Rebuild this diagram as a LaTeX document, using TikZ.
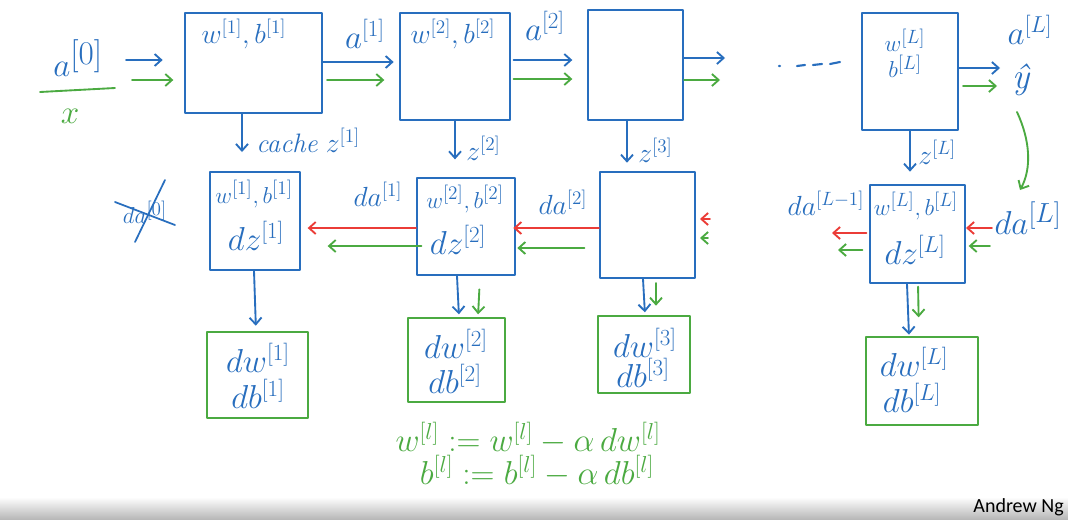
\documentclass[tikz,border=0pt]{standalone}
\usepackage{fontspec}
\newfontfamily\ngfont{Carlito}
\usetikzlibrary{arrows.meta,fit,calc}
\definecolor{pb}{RGB}{40,110,190}
\definecolor{pg}{RGB}{75,170,65}
\definecolor{pr}{RGB}{235,60,55}
\begin{document}
\begin{tikzpicture}[x=0.75pt,y=-0.75pt,line cap=round,line join=round,
  bbox/.style={draw=pb,line width=1.5pt,inner sep=0pt},
  gbox/.style={draw=pg,line width=1.5pt,inner sep=0pt},
  tip/.style={-{Straight Barb[length=5pt,width=9pt,line width=1.4pt]}},
  barr/.style={pb,line width=1.4pt,tip},
  garr/.style={pg,line width=1.4pt,tip},
  rarr/.style={pr,line width=1.4pt,tip},
  btxt/.style={text=pb,inner sep=0pt,font=\fontsize{19}{21}\selectfont},
  ztxt/.style={text=pb,inner sep=0pt,font=\fontsize{20}{22}\selectfont},
  bbig/.style={text=pb,inner sep=0pt,font=\fontsize{27}{30}\selectfont},
  gtxt/.style={text=pg,inner sep=0pt,font=\fontsize{23}{26}\selectfont},
  dtxt/.style={text=pb,inner sep=0pt,font=\fontsize{20}{22}\selectfont},
  dbig/.style={text=pb,inner sep=0pt,font=\fontsize{25}{27}\selectfont}]
\useasboundingbox (0,0) rectangle (1068,519);
\fill[white] (0,0) rectangle (1068,519);
\shade[top color=white,bottom color=black!28] (0,497) rectangle (1068,519);
\node[anchor=east,inner sep=0pt,font=\ngfont\fontsize{15}{16}\selectfont] (ng) at (1064,507) {Andrew Ng};

% ---------- forward boxes ----------
\node[bbox,fit={(185,13)(322,113)}] (F1) {};
\node[bbox,fit={(400,13)(510,120)}] (F2) {};
\node[bbox,fit={(588,10)(683,120)}] (F3) {};
\node[bbox,fit={(862,13)(958,130)}] (FL) {};
\node[btxt,font=\fontsize{20}{22}\selectfont] (F1t) at (244,34) {$w^{[1]},b^{[1]}$};
\node[btxt,font=\fontsize{21}{23}\selectfont] (F2t) at (453,34) {$w^{[2]},b^{[2]}$};
\node[btxt] (FLt1) at (905,40) {$w^{[L]}$};
\node[btxt] (FLt2) at (905,66) {$b^{[L]}$};

% input
\node[text=pb,inner sep=0pt,font=\fontsize{40}{42}\selectfont] (a0) at (78,58) {$a^{[0]}$};
\draw[pg,line width=1.4pt] (40,92) -- (115,88);
\node[text=pg,inner sep=0pt,font=\fontsize{26}{28}\selectfont] (x) at (70,116) {$x$};
\coordinate (inb) at (126,60);
\coordinate (ing) at (132,80);
\draw[barr,shorten >=16pt] (inb) -- (F1.west |- inb);
\draw[garr,shorten >=8pt] (ing) -- (F1.west |- ing);

% forward arrows
\draw[barr,shorten >=4pt] (F1.east |- 0,62) -- (F2.west |- 0,62);
\draw[garr,shorten <=3pt,shorten >=11pt] (F1.east |- 0,80) -- (F2.west |- 0,80);
\node[bbig] (a1) at (365,34) {$a^{[1]}$};
\draw[barr,shorten <=2pt,shorten >=11pt] (F2.east |- 0,60) -- (F3.west |- 0,60);
\draw[garr,shorten <=2pt,shorten >=11pt] (F2.east |- 0,79) -- (F3.west |- 0,79);
\node[bbig] (a2) at (545,26) {$a^{[2]}$};
\coordinate (o3b) at (725,58);
\coordinate (o3g) at (720,80);
\draw[barr] (F3.east |- o3b) -- (o3b);
\draw[garr] (F3.east |- o3g) -- (o3g);
\draw[pb,line width=1.6pt] (779,66) -- (780,66) (797,66) -- (805,65) (813,65) -- (822,64) (830,64) -- (840,62);
\coordinate (oLb) at (1000,68);
\coordinate (oLg) at (997,86);
\draw[barr] (FL.east |- oLb) -- (oLb);
\draw[garr,shorten <=3pt] (FL.east |- oLg) -- (oLg);
\node[bbig,font=\fontsize{25}{27}\selectfont] (aL) at (1030,30) {$a^{[L]}$};
\node[bbig,font=\fontsize{27}{30}\itshape] (yh) at (1021,80) {ŷ};

% cache arrows
\draw[barr,shorten >=15pt] (F1.south -| 242,0) -- (242,172);
\node[ztxt,anchor=west] (c1) at (256,140) {\textit{cache} $z^{[1]}$};
\draw[barr,shorten >=14pt] (F2.south -| 455,0) -- (455,178);
\node[ztxt,anchor=west] (z2) at (466,148) {$z^{[2]}$};
\draw[barr,shorten >=7pt] (F3.south -| 627,0) -- (627,172);
\node[ztxt,anchor=west] (z3) at (638,150) {$z^{[3]}$};
\draw[barr,shorten >=10pt] (FL.south -| 910,0) -- (910,185);
\node[ztxt,anchor=west] (zL) at (918,152) {$z^{[L]}$};

% backward boxes
\node[bbox,fit={(210,172)(300,270)}] (B1) {};
\node[bbox,fit={(417,178)(515,275)}] (B2) {};
\node[bbox,fit={(600,172)(695,278)}] (B3) {};
\node[bbox,fit={(870,185)(965,283)}] (BL) {};
\node[btxt] (B1t) at (254,194) {$w^{[1]},b^{[1]}$};
\node[dbig] (B1z) at (256,236) {$dz^{[1]}$};
\node[btxt] (B2t) at (465,199) {$w^{[2]},b^{[2]}$};
\node[dbig] (B2z) at (458,240) {$dz^{[2]}$};
\node[btxt] (BLt) at (916,206) {$w^{[L]},b^{[L]}$};
\node[dbig] (BLz) at (915,250) {$dz^{[L]}$};

% crossed da0
\node[btxt] (da0) at (145,212) {$da^{[0]}$};
\draw[pb,line width=1.3pt] (115,202) -- (175,225);
\draw[pb,line width=1.3pt] (165,180) -- (135,242);

% backward arrows
\draw[rarr,shorten >=5pt] (B2.west |- 0,228) -- (B1.east |- 0,228);
\draw[garr,shorten <=-4pt,shorten >=20pt] (B2.west |- 0,246) -- (B1.east |- 0,246);
\node[dtxt,font=\fontsize{22}{24}\selectfont] (da1) at (378,194) {$da^{[1]}$};
\draw[rarr,shorten >=-2pt] (B3.west |- 0,228) -- (B2.east |- 0,228);
\draw[garr,shorten <=11pt,shorten >=1pt] (B3.west |- 0,248) -- (B2.east |- 0,248);
\node[dtxt,font=\fontsize{22}{24}\selectfont] (da2) at (563,202) {$da^{[2]}$};
\coordinate (i3r) at (710,219);
\coordinate (i3g) at (708,238);
\draw[rarr,shorten >=3pt] (i3r) -- (B3.east |- i3r);
\draw[garr,shorten >=3pt] (i3g) -- (B3.east |- i3g);
\coordinate (iLr) at (992,228);
\coordinate (iLg) at (990,246);
\draw[rarr] (iLr) -- (BL.east |- iLr);
\draw[garr,shorten >=2pt] (iLg) -- (BL.east |- iLg);
\node[text=pb,inner sep=0pt,font=\fontsize{29}{31}\selectfont] (daL) at (1028,218) {$da^{[L]}$};
\coordinate (oLr) at (832,233);
\coordinate (oLgg) at (838,250);
\draw[rarr,shorten <=2pt] (BL.west |- oLr) -- (oLr);
\draw[garr,shorten <=5pt] (BL.west |- oLgg) -- (oLgg);
\node[dtxt] (daLm) at (826,203) {$da^{[L-1]}$};

% yhat to daL
\draw[garr] (1017,112) .. controls (1030,140) and (1032,168) .. (1020,190);

% grad boxes
\node[gbox,fit={(207,332)(308,418)}] (G1) {};
\node[gbox,fit={(408,318)(505,402)}] (G2) {};
\node[gbox,fit={(598,316)(690,393)}] (G3) {};
\node[gbox,fit={(866,337)(978,425)}] (GL) {};
\node[dbig] (G1w) at (258,358) {$dw^{[1]}$};
\node[dbig] (G1b) at (258,394) {$db^{[1]}$};
\node[dbig] (G2w) at (456,344) {$dw^{[2]}$};
\node[dbig] (G2b) at (455,379) {$db^{[2]}$};
\node[dbig] (G3w) at (645,343) {$dw^{[3]}$};
\node[dbig] (G3b) at (643,373) {$db^{[3]}$};
\node[dbig] (GLw) at (914,362) {$dw^{[L]}$};
\node[dbig] (GLb) at (912,398) {$db^{[L]}$};

% down arrows to grads
\draw[barr,shorten >=4pt] (B1.south -| 254,0) -- (G1.north -| 256,0);
\draw[barr,shorten >=2pt] (B2.south -| 457,0) -- (G2.north -| 459,0);
\draw[garr,shorten <=10pt,shorten >=2pt] (B2.south -| 480,0) -- (G2.north -| 478,0);
\draw[barr,shorten >=2pt] (B3.south -| 643,0) -- (G3.north -| 645,0);
\draw[garr,shorten <=3pt,shorten >=7pt] (B3.south -| 656,0) -- (G3.north -| 656,0);
\draw[barr,shorten >=1pt] (BL.south -| 907,0) -- (GL.north -| 909,0);
\draw[garr,shorten <=2pt,shorten >=14pt] (BL.south -| 918,0) -- (GL.north -| 919,0);

% update rules
\node[gtxt] (eq1) at (528,438) {$w^{[l]} := w^{[l]} - \alpha\, dw^{[l]}$};
\node[gtxt] (eq2) at (537,471) {$b^{[l]} := b^{[l]} - \alpha\, db^{[l]}$};
\end{tikzpicture}
\end{document}
